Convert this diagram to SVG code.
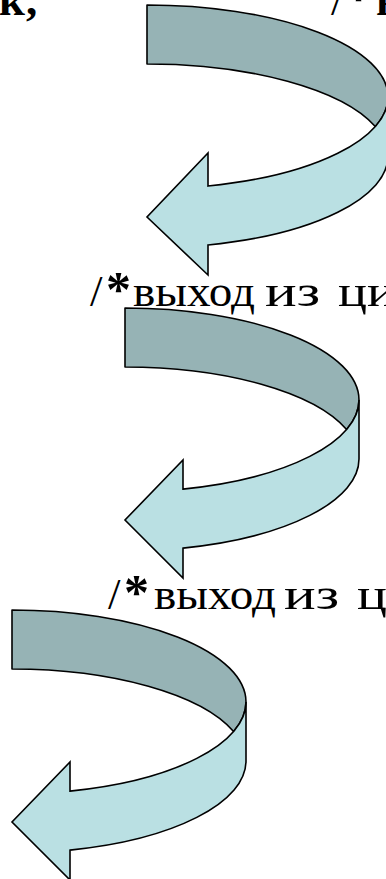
<svg xmlns="http://www.w3.org/2000/svg" width="386" height="879" viewBox="0 0 386 879">
<style>
.txt{font-family:"Liberation Serif","Times New Roman",serif;font-size:45px;fill:#000}
.b{font-weight:bold}
.ast{font-weight:bold;font-size:50px}
.back{fill:#96B3B5;stroke:#000;stroke-width:1.6;stroke-linejoin:round}
.front{fill:#BAE0E3;stroke:#000;stroke-width:1.6;stroke-linejoin:miter}
</style>
<rect width="386" height="879" fill="#fff"/>
<g id="labels">
<text class="txt b" y="15"><tspan x="-1" textLength="26" lengthAdjust="spacingAndGlyphs">к</tspan><tspan x="26">,</tspan></text>
<text class="txt" y="15"><tspan x="331">/</tspan><tspan class="ast" x="346">*</tspan><tspan class="b" x="376">в</tspan></text>
<text class="txt" y="306"><tspan x="90">/</tspan><tspan class="ast" x="106">*</tspan><tspan x="133" textLength="122" lengthAdjust="spacingAndGlyphs">выход</tspan><tspan x="265" textLength="55" lengthAdjust="spacingAndGlyphs">из</tspan><tspan x="338" textLength="58" lengthAdjust="spacingAndGlyphs">ци</tspan></text>
<text class="txt" y="609"><tspan x="108">/</tspan><tspan class="ast" x="124">*</tspan><tspan x="154" textLength="122" lengthAdjust="spacingAndGlyphs">выход</tspan><tspan x="284" textLength="55" lengthAdjust="spacingAndGlyphs">из</tspan><tspan x="357" textLength="30" lengthAdjust="spacingAndGlyphs">ц</tspan></text>
</g>
<g id="arrow1">
<path class="back" d="M147,5 A241,92 0 0 1 388,97 A241,92 0 0 1 375.3,126.5 A241,92 0 0 0 147,64 Z"/>
<path class="front" d="M388,97 A241,92 0 0 1 208,186 L208,153 L147,217 L208,275 L208,245 A241,92 0 0 0 388,156 Z"/>
</g>
<g id="arrow2">
<path class="back" d="M125,308 A234,92 0 0 1 359,400 A234,92 0 0 1 346.6,429.5 A234,92 0 0 0 125,367 Z"/>
<path class="front" d="M359,400 A234,92 0 0 1 183,489.1 L183,460 L125,520 L183,578 L183,548.1 A234,92 0 0 0 359,459 Z"/>
</g>
<g id="arrow3">
<path class="back" d="M12,610 A234,92 0 0 1 246,702 A234,92 0 0 1 233.6,731.5 A234,92 0 0 0 12,669 Z"/>
<path class="front" d="M246,702 A234,92 0 0 1 70,791.1 L70,762 L12,822 L70,880 L70,850.1 A234,92 0 0 0 246,761 Z"/>
</g>
</svg>
